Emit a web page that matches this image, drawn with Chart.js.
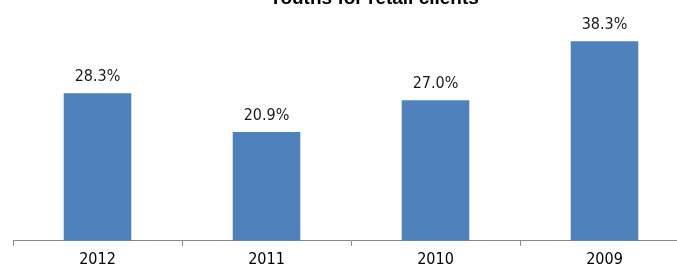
<!DOCTYPE html>
<html>
<head>
<meta charset="utf-8">
<script src="https://cdn.jsdelivr.net/npm/chart.js@4"></script>
<style>
  html, body { margin: 0; padding: 0; background: #fff; }
  #wrap { position: relative; width: 677px; height: 265px; overflow: hidden; }
  #box { position: absolute; left: 0; top: 0; width: 700px; height: 273px; }
</style>
</head>
<body>
<div id="wrap"><div id="box"><canvas id="bar-chart"></canvas></div></div>
<script>
var years = ["2012", "2011", "2010", "2009"];
var shares = [28.3, 20.9, 27.0, 38.3];
var chartTitle = "Youths for retail clients";

var valueLabels = {
  id: 'valueLabels',
  afterDatasetsDraw: function(chart) {
    var ctx = chart.ctx;
    var meta = chart.getDatasetMeta(0);
    ctx.save();
    ctx.font = '16px "DejaVu Sans Condensed", "Liberation Sans Narrow", sans-serif';
    ctx.fillStyle = '#1a1a1a';
    ctx.textAlign = 'center';
    ctx.textBaseline = 'alphabetic';
    meta.data.forEach(function(bar, i) {
      ctx.fillText(shares[i].toFixed(1) + '%', bar.x, bar.y - 12);
    });
    // title, cut off by the top edge like in the source
    ctx.font = 'bold 19px "Liberation Sans", Arial, sans-serif';
    ctx.fillStyle = '#000';
    ctx.fillText(chartTitle, 374, 4);
    ctx.restore();
  }
};

new Chart(document.getElementById("bar-chart"), {
    type: 'bar',
    data: {
      labels: years,
      datasets: [{
          label: "Share",
          backgroundColor: "#4f81bd",
          borderWidth: 0,
          categoryPercentage: 1,
          barPercentage: 0.4,
          data: shares
        }
      ]
    },
    plugins: [valueLabels],
    options: {
      maintainAspectRatio: false,
      animation: false,
      layout: { padding: { left: 13, right: 11, top: 22, bottom: 0 } },
      plugins: {
        legend: { display: false },
        tooltip: { enabled: false },
        title: { display: false }
      },
      scales: {
        x: {
          offset: true,
          grid: { display: true, offset: true, drawOnChartArea: false, tickLength: 5, color: '#888' },
          border: { display: true, color: '#888', width: 1 },
          ticks: {
            color: '#000',
            padding: 4,
            font: { family: '"DejaVu Sans Condensed", "Liberation Sans Narrow", sans-serif', size: 16 }
          }
        },
        y: {
          display: false,
          min: 0,
          max: 42
        }
      }
    }
});
</script>
</body>
</html>
